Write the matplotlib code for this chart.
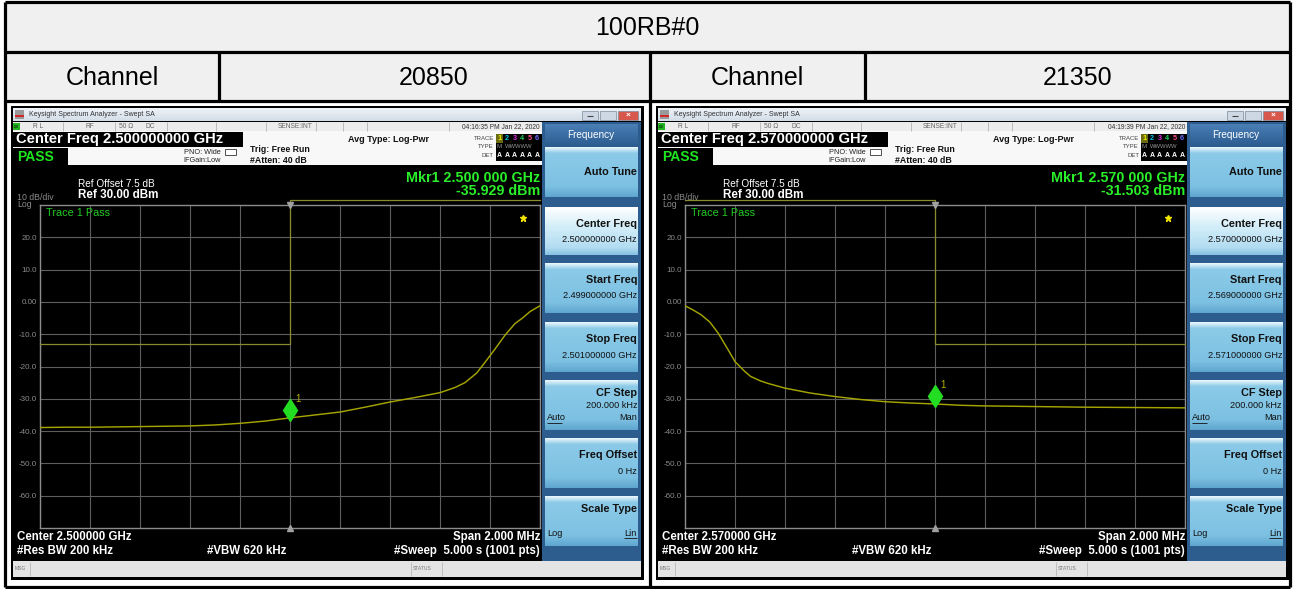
import matplotlib
matplotlib.use('Agg')
import matplotlib.pyplot as plt
from matplotlib.patches import Rectangle
from matplotlib.ticker import LinearLocator, FixedLocator
import matplotlib.transforms as mtransforms
import numpy as np

W, H = 1293, 589
plt.rcParams['font.family'] = ['Liberation Sans', 'DejaVu Sans']

# ---------------- data ----------------
table_title = "100RB#0"
header_labels = ["Channel", "20850", "Channel", "21350"]
center_ghz = [2.500, 2.570]
start_ghz = [2.499, 2.569]
stop_ghz = [2.501, 2.571]
timestamps = ["04:16:35 PM Jan 22, 2020", "04:19:39 PM Jan 22, 2020"]
marker_dbm = [-35.929, -31.503]

ch1_offset_mhz = [-1.00, -0.90, -0.80, -0.70, -0.60, -0.50, -0.40, -0.30, -0.20, -0.10,
                  0.00, 0.10, 0.20, 0.30, 0.40, 0.50, 0.60, 0.66, 0.70, 0.747,
                  0.787, 0.82, 0.86, 0.90, 0.93, 0.96, 1.00]
ch1_dbm = [-38.9, -38.8, -38.8, -38.7, -38.6, -38.5, -38.4, -38.1, -37.6, -36.9,
           -35.9, -35.0, -34.1, -32.6, -31.0, -29.6, -28.1, -26.5, -25.0, -22.0,
           -18.0, -14.6, -10.3, -6.7, -5.0, -3.0, -1.2]

ch2_offset_mhz = [-1.00, -0.97, -0.935, -0.90, -0.867, -0.827, -0.80, -0.76, -0.737, -0.70,
                  -0.67, -0.60, -0.50, -0.40, -0.30, -0.20, -0.10, 0.00, 0.10, 0.20,
                  0.40, 0.60, 0.80, 1.00]
ch2_dbm = [-1.2, -2.4, -4.0, -6.3, -9.7, -14.9, -18.5, -21.6, -23.1, -24.4,
           -25.2, -26.7, -28.2, -29.3, -30.2, -30.9, -31.3, -31.6, -32.0, -32.2,
           -32.4, -32.6, -32.7, -32.8]

limit1_offset_mhz = [-1.0, 0.0, 0.0, 1.0]
limit1_dbm = [-13.0, -13.0, 31.5, 31.5]
limit2_offset_mhz = [-1.0, 0.0, 0.0, 1.0]
limit2_dbm = [31.5, 31.5, -13.0, -13.0]

traces_off = [ch1_offset_mhz, ch2_offset_mhz]
traces_dbm = [ch1_dbm, ch2_dbm]
limits_off = [limit1_offset_mhz, limit2_offset_mhz]
limits_dbm = [limit1_dbm, limit2_dbm]

ytick_vals = [20, 10, 0, -10, -20, -30, -40, -50, -60]
ytick_labels = ["20.0", "10.0", "0.00", "-10.0", "-20.0", "-30.0", "-40.0", "-50.0", "-60.0"]
ref_level = 30.0
bottom_level = -70.0

# ---------------- figure ----------------
fig = plt.figure(figsize=(W / 100, H / 100), dpi=100)
fig.patch.set_facecolor('white')
bg = fig.add_axes([0, 0, 1, 1])
bg.axis('off')


def rect(x0, y0, x1, y1, fc, ec='none', lw=0, z=1):
    bg.add_patch(Rectangle((x0, y0), x1 - x0, y1 - y0, facecolor=fc,
                           edgecolor=ec, linewidth=lw, zorder=z))


def txt(x, y, s, size, color='black', weight='normal', ha='left', va='center', z=5, **kw):
    bg.text(x, y, s, fontsize=size, color=color, fontweight=weight, ha=ha, va=va,
            zorder=z, **kw)


def vline(x, y0, y1, color, lw, z=2):
    bg.plot([x, x], [y0, y1], color=color, lw=lw, zorder=z, solid_capstyle='butt')


def hline(y, x0, x1, color, lw, z=2):
    bg.plot([x0, x1], [y, y], color=color, lw=lw, zorder=z, solid_capstyle='butt')


def gradient_rect(x0, y0, x1, y1, stops, z=2):
    n = 60
    pos = np.linspace(0, 1, n)
    cols = np.zeros((n, 1, 3))
    sp = [s[0] for s in stops]
    for c in range(3):
        cols[:, 0, c] = np.interp(pos, sp, [matplotlib.colors.to_rgb(s[1])[c] for s in stops])
    bg.imshow(cols, extent=(x0, x1, y1, y0), origin='upper', aspect='auto',
              interpolation='bilinear', zorder=z)


# ---------------- table ----------------
rect(5, 2, 1290, 101, '#f0f0f0', z=0)
TL = 2.3
hline(2, 5, 1290, 'black', TL, z=3)
hline(52, 5, 1290, 'black', TL, z=3)
hline(101, 5, 1290, 'black', TL, z=3)
hline(587, 5, 1290, 'black', TL, z=3)
vline(5, 2, 587, 'black', TL, z=3)
vline(1290, 2, 587, 'black', TL, z=3)
vline(219, 52, 101, 'black', TL, z=3)
vline(650, 52, 587, 'black', TL, z=3)
vline(865, 52, 101, 'black', TL, z=3)

txt(647, 28, table_title, 18, ha='center')
for xc, lab in zip([112, 434, 757, 1078], header_labels):
    txt(xc, 78, lab, 18, ha='center')


def draw_panel(i, ox):
    X = lambda x: x + ox
    fc = center_ghz[i]
    # frame
    rect(X(11), 106, X(644), 580, 'black', z=1)
    # title bar
    gradient_rect(X(13), 108, X(641), 121, [(0, '#eef3f8'), (1, '#d3dde8')])
    rect(X(15), 110, X(24), 119, '#9a9a9a', z=3)
    rect(X(15), 115, X(24), 117, '#d02828', z=4)
    txt(X(29), 115, 'Keysight Spectrum Analyzer - Swept SA', 5, '#333333')
    for bx0, bx1, c in [(582, 598, '#cdd8e4'), (600, 616, '#cdd8e4'), (618, 638, '#d8574c')]:
        rect(X(bx0), 111, X(bx1), 120, c, ec='#7d8b99', lw=0.5, z=3)
    hline(116, X(587), X(593), '#444444', 0.8, z=4)
    txt(X(628), 115.5, '×', 6, 'white', 'bold', ha='center')
    # status row
    rect(X(13), 122, X(542), 131, '#ececec', z=2)
    for sx in [63, 115, 167, 216, 266, 316, 343, 367, 449]:
        vline(X(sx), 122, 131, '#b4b4b4', 0.6, z=3)
    rect(X(13), 123, X(20), 130, '#22b422', z=3)
    txt(X(16.5), 126.5, 'LXI', 2.5, 'black', ha='center')
    for sx, s in [(33, 'R L'), (86, 'RF'), (119, '50 Ω'), (146, 'DC'), (278, 'SENSE:INT')]:
        txt(X(sx), 126.5, s, 4.8, '#666666')
    txt(X(540), 126.5, timestamps[i], 4.8, '#333333', ha='right')
    # settings area
    rect(X(13), 131, X(542), 165, '#f8f8f8', z=2)
    rect(X(13), 132, X(243), 147, 'black', z=3)
    txt(X(16), 139.3, f'Center Freq {fc:.9f} GHz', 10.6, 'white', 'bold')
    rect(X(13), 148, X(68), 166, 'black', z=3)
    txt(X(17), 157, 'PASS', 10, '#1ee61e', 'bold')
    txt(X(221), 152, 'PNO: Wide', 5.3, '#222222', ha='right')
    txt(X(221), 160.5, 'IFGain:Low', 5.3, '#222222', ha='right')
    rect(X(225), 149, X(236), 155, 'white', ec='#333333', lw=0.6, z=3)
    txt(X(250), 149, 'Trig: Free Run', 6.3, '#111111', 'bold')
    txt(X(250), 160.5, '#Atten: 40 dB', 6.3, '#111111', 'bold')
    txt(X(348), 139, 'Avg Type: Log-Pwr', 6.5, '#111111', 'bold')
    txt(X(494), 138, 'TRACE', 4.3, '#444444', ha='right')
    txt(X(494), 147, 'TYPE', 4.3, '#444444', ha='right')
    txt(X(494), 155.5, 'DET', 4.3, '#444444', ha='right')
    rect(X(496), 134, X(542), 161, 'black', z=3)
    rect(X(496), 134, X(503), 143, '#6b6b10', z=3)
    for k, c in enumerate(['#f0f000', '#00c8e8', '#e030e0', '#20d060', '#ff4d88', '#6a6aff']):
        txt(X(499.5 + 7.5 * k), 138.5, str(k + 1), 5.2, c, 'bold', ha='center')
    txt(X(499.5), 147, 'M', 4.5, '#909090', ha='center')
    txt(X(519), 147, 'WWWWW', 4.2, '#909090', ha='center')
    for k in range(6):
        txt(X(499.5 + 7.5 * k), 155.5, 'A', 5.0, 'white', 'bold', ha='center')
    # black main area
    rect(X(13), 165, X(542), 561, 'black', z=2)
    mk_f = f'{fc:.6f}'
    mk_str = mk_f[:5] + ' ' + mk_f[5:]
    txt(X(540), 178, f'Mkr1 {mk_str} GHz', 10.3, '#2aee2a', 'bold', ha='right')
    txt(X(540), 191, f'{marker_dbm[i]:.3f} dBm', 10.3, '#2aee2a', 'bold', ha='right')
    txt(X(78), 184, 'Ref Offset 7.5 dB', 7.2, 'white')
    txt(X(78), 195.5, f'Ref {ref_level:.2f} dBm', 8.4, 'white', 'bold')
    txt(X(17), 197.5, '10 dB/div', 6.3, '#8a8a8a')
    txt(X(17), 204.5, 'Log', 6.3, '#8a8a8a')
    txt(X(17), 537, f'Center {fc:.6f} GHz', 8.3, 'white', 'bold')
    txt(X(17), 551, '#Res BW 200 kHz', 8.3, 'white', 'bold')
    txt(X(207), 551, '#VBW 620 kHz', 8.3, 'white', 'bold')
    txt(X(540), 537, 'Span 2.000 MHz', 8.3, 'white', 'bold', ha='right')
    txt(X(540), 551, '#Sweep  5.000 s (1001 pts)', 8.3, 'white', 'bold', ha='right')
    # softkey panel
    rect(X(542), 122, X(641), 562, '#2d5d8f', z=2)
    gradient_rect(X(545), 124, X(638), 146, [(0, '#4a7fb6'), (1, '#2c5c90')])
    txt(X(591), 134.5, 'Frequency', 7.2, 'white', ha='center')
    normal = [(0, '#eaf6fc'), (0.12, '#8ccbe8'), (0.8, '#7cc0e2'), (1, '#5fa6cf')]
    selected = [(0, '#ffffff'), (0.4, '#d4eef9'), (0.85, '#b2dcf1'), (1, '#86c2e2')]
    buttons = [
        (147, 197, 'Auto Tune', None, normal),
        (207, 255, 'Center Freq', f'{center_ghz[i]:.9f} GHz', selected),
        (263, 313, 'Start Freq', f'{start_ghz[i]:.9f} GHz', normal),
        (322, 372, 'Stop Freq', f'{stop_ghz[i]:.9f} GHz', normal),
        (380, 430, 'CF Step', '200.000 kHz', normal),
        (438, 488, 'Freq Offset', '0 Hz', normal),
        (496, 546, 'Scale Type', None, normal),
    ]
    for top, bot, title, val, stops in buttons:
        gradient_rect(X(545), top, X(638), bot, stops, z=3)
        if title == 'Auto Tune':
            txt(X(637), 172, title, 7.8, '#111111', 'bold', ha='right')
        elif title in ('CF Step', 'Scale Type'):
            txt(X(637), top + 13, title, 7.8, '#111111', 'bold', ha='right')
        else:
            txt(X(637), top + 17, title, 7.8, '#111111', 'bold', ha='right')
        if title == 'CF Step':
            txt(X(637), top + 25, val, 6.6, '#111111', ha='right')
            txt(X(547), top + 38, 'Auto', 6.6, '#111111')
            hline(top + 42.5, X(547), X(562), '#111111', 0.6, z=6)
            txt(X(637), top + 38, 'Man', 6.6, '#111111', ha='right')
        elif title == 'Scale Type':
            txt(X(547), top + 37, 'Log', 6.6, '#111111')
            txt(X(637), top + 37, 'Lin', 6.6, '#111111', ha='right')
            hline(top + 41.5, X(624), X(637), '#111111', 0.6, z=6)
        elif val is not None:
            txt(X(637), top + 33, val, 6.6, '#111111', ha='right')
    # bottom status bar
    rect(X(13), 561, X(641), 577, '#e4e4e4', z=3)
    vline(X(30), 562, 576, '#b8b8b8', 0.6, z=4)
    vline(X(411), 562, 576, '#b8b8b8', 0.6, z=4)
    vline(X(442), 562, 576, '#b8b8b8', 0.6, z=4)
    txt(X(15), 569, 'MSG', 3.6, '#777777')
    txt(X(413), 569, 'STATUS', 3.6, '#777777')

    # ---------------- spectrum plot ----------------
    gx0, gy0, gx1, gy1 = X(40), 205, X(540), 528
    ax = fig.add_axes([gx0 / W, 1 - gy1 / H, (gx1 - gx0) / W, (gy1 - gy0) / H])
    ax.set_facecolor('black')
    ax.set_xlim(fc - 0.001, fc + 0.001)
    ax.set_ylim(bottom_level, ref_level)
    ax.xaxis.set_major_locator(LinearLocator(11))
    ax.yaxis.set_major_locator(FixedLocator(ytick_vals))
    ax.set_yticklabels(ytick_labels)
    ax.tick_params(axis='x', length=0, labelbottom=False)
    ax.tick_params(axis='y', length=0, labelsize=5.8, labelcolor='#8c8c8c', pad=2)
    ax.grid(True, color='#5e5e5e', lw=0.8)
    ax.set_axisbelow(True)
    for sp in ax.spines.values():
        sp.set_color('#8c8c8c')
        sp.set_linewidth(1.0)
    fx = fc + np.array(traces_off[i]) * 1e-3
    ax.plot(fx, traces_dbm[i], color='#a4a400', lw=1.05, zorder=4)
    lx = fc + np.array(limits_off[i]) * 1e-3
    ax.plot(lx, limits_dbm[i], color='#8a8a2e', lw=0.9, zorder=3, clip_on=False)
    # center tick markers
    ax.plot([fc], [ref_level], marker='v', color='#a0a0a0', ms=4, clip_on=False, zorder=5)
    ax.plot([fc], [bottom_level], marker='^', color='#a0a0a0', ms=4, clip_on=False, zorder=5)
    # marker diamond
    off = mtransforms.offset_copy(ax.transData, fig=fig, x=0, y=8, units='dots')
    ax.plot([fc], [marker_dbm[i]], marker='d', ms=11.5, color='#22dd22', transform=off,
            zorder=6, clip_on=False)
    ax.annotate('1', (fc, marker_dbm[i]), xytext=(5, 16), textcoords='offset pixels',
                color='#b4b400', fontsize=7, zorder=7)
    ax.plot([0.966], [0.96], marker='*', color='#f2e600', ms=5, transform=ax.transAxes,
            zorder=6)
    ax.text(0.012, 0.975, 'Trace 1 Pass', transform=ax.transAxes, color='#22cc22',
            fontsize=7.8, va='center', ha='left')


draw_panel(0, 0)
draw_panel(1, 645)

bg.set_xlim(0, W)
bg.set_ylim(H, 0)

fig.savefig('out.png', dpi=100)
